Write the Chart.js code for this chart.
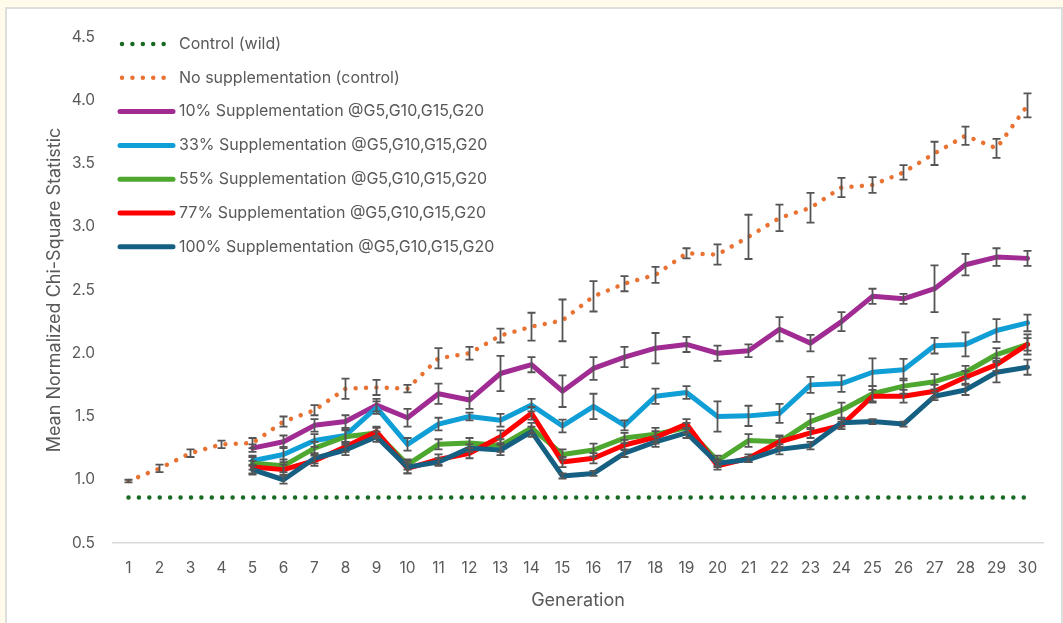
<!DOCTYPE html>
<html>
<head>
<meta charset="utf-8">
<script src="https://cdn.jsdelivr.net/npm/chart.js@4.4.1/dist/chart.umd.min.js"></script>
<style>
  html, body { margin: 0; padding: 0; background: #fffaea; }
  body { width: 1063px; height: 623px; position: relative; overflow: hidden; }
  #panel { position: absolute; left: 5px; top: 7px; width: 1054px; height: 620px;
           background: #ffffff; border: 2px solid #dedede; }
  #wrap { position: absolute; left: 0; top: 0; width: 1063px; height: 623px; }
</style>
</head>
<body>
<div id="panel"></div>
<div id="wrap"><canvas id="chart" width="1063" height="623"></canvas></div>
<script>
// Generations on the x axis
const generations = ['1','2','3','4','5','6','7','8','9','10','11','12','13','14','15',
  '16','17','18','19','20','21','22','23','24','25','26','27','28','29','30'];

// Wild-type reference level
const controlWild = [0.86,0.86,0.86,0.86,0.86,0.86,0.86,0.86,0.86,0.86,0.86,0.86,0.86,0.86,0.86,
  0.86,0.86,0.86,0.86,0.86,0.86,0.86,0.86,0.86,0.86,0.86,0.86,0.86,0.86,0.86];

// No supplementation (control) and its error
const noSupp = [0.99,1.09,1.21,1.28,1.29,1.46,1.55,1.72,1.73,1.72,1.96,2.00,2.14,2.21,2.26,
  2.45,2.55,2.62,2.79,2.78,2.92,3.07,3.15,3.31,3.33,3.43,3.58,3.72,3.62,3.96];
const noSuppErr = [0.01,0.03,0.03,0.03,0.04,0.04,0.04,0.08,0.06,0.03,0.08,0.05,0.055,0.11,0.165,
  0.12,0.06,0.063,0.04,0.08,0.175,0.105,0.117,0.076,0.063,0.057,0.092,0.072,0.075,0.095];

// 10% supplementation
const sup10 = [null,null,null,null,1.25,1.30,1.43,1.46,1.59,1.49,1.68,1.63,1.84,1.91,1.70,
  1.88,1.97,2.04,2.07,2.00,2.02,2.19,2.08,2.25,2.45,2.43,2.51,2.70,2.76,2.75];
const sup10Err = [null,null,null,null,0.03,0.05,0.05,0.05,0.05,0.07,0.08,0.07,0.14,0.06,0.125,
  0.09,0.08,0.12,0.06,0.06,0.05,0.095,0.065,0.075,0.06,0.04,0.185,0.085,0.07,0.06];

// 33% supplementation
const sup33 = [null,null,null,null,1.15,1.20,1.31,1.35,1.57,1.28,1.44,1.50,1.47,1.59,1.425,
  1.58,1.43,1.66,1.69,1.50,1.505,1.525,1.75,1.76,1.85,1.87,2.06,2.07,2.18,2.24];
const sup33Err = [null,null,null,null,0.04,0.06,0.05,0.05,0.05,0.05,0.05,0.03,0.05,0.05,0.05,
  0.10,0.04,0.06,0.05,0.12,0.08,0.075,0.063,0.065,0.11,0.085,0.062,0.095,0.09,0.066];

// 55% supplementation
const sup55 = [null,null,null,null,1.13,1.11,1.25,1.34,1.37,1.12,1.28,1.29,1.27,1.41,1.20,
  1.235,1.33,1.36,1.41,1.15,1.31,1.30,1.46,1.55,1.68,1.74,1.775,1.85,1.99,2.07];
const sup55Err = [null,null,null,null,0.05,0.05,0.05,0.05,0.04,0.04,0.04,0.04,0.05,0.04,0.04,
  0.05,0.04,0.05,0.04,0.04,0.05,0.04,0.06,0.06,0.06,0.06,0.06,0.05,0.05,0.05];

// 77% supplementation
const sup77 = [null,null,null,null,1.10,1.08,1.15,1.26,1.38,1.09,1.16,1.21,1.34,1.525,1.14,
  1.17,1.275,1.335,1.44,1.11,1.17,1.30,1.37,1.43,1.66,1.66,1.70,1.81,1.91,2.07];
const sup77Err = [null,null,null,null,0.05,0.04,0.04,0.04,0.04,0.04,0.04,0.04,0.05,0.05,0.04,
  0.04,0.04,0.05,0.04,0.03,0.03,0.05,0.04,0.03,0.05,0.05,0.05,0.05,0.05,0.08];

// 100% supplementation
const sup100 = [null,null,null,null,1.08,1.00,1.17,1.235,1.34,1.10,1.14,1.25,1.235,1.38,1.03,
  1.05,1.21,1.30,1.37,1.13,1.16,1.24,1.27,1.45,1.46,1.44,1.66,1.71,1.85,1.89];
const sup100Err = [null,null,null,null,0.04,0.03,0.04,0.04,0.04,0.05,0.03,0.03,0.04,0.04,0.02,
  0.02,0.03,0.04,0.04,0.03,0.02,0.04,0.03,0.03,0.02,0.02,0.03,0.04,0.08,0.06];

const TEXT = '#595959';
const FONT = 'Inter, "Open Sans", sans-serif';

function dotted(label, data, color, order) {
  return { label, data, borderColor: color, backgroundColor: color, borderWidth: 4.5,
    borderDash: [0.01, 10.4], borderCapStyle: 'round', pointRadius: 0, order, dotted: true };
}
function solid(label, data, err, color, order) {
  return { label, data, errors: err, borderColor: color, backgroundColor: color, borderWidth: 5,
    borderJoinStyle: 'round', borderCapStyle: 'round', pointRadius: 0, order };
}

const datasets = [
  dotted('Control (wild)', controlWild, '#196B24', 7),
  Object.assign(dotted('No supplementation (control)', noSupp, '#E97132', 6), { errors: noSuppErr }),
  solid('10% Supplementation @G5,G10,G15,G20', sup10, sup10Err, '#A02B93', 5),
  solid('33% Supplementation @G5,G10,G15,G20', sup33, sup33Err, '#0F9ED5', 4),
  solid('55% Supplementation @G5,G10,G15,G20', sup55, sup55Err, '#4EA72E', 3),
  solid('77% Supplementation @G5,G10,G15,G20', sup77, sup77Err, '#FF0000', 2),
  solid('100% Supplementation @G5,G10,G15,G20', sup100, sup100Err, '#156082', 1)
];

// Vertical error bars with caps, placed through the chart's own scales
const errorBars = {
  id: 'errorBars',
  afterDatasetsDraw(chart) {
    const { ctx, scales: { x, y } } = chart;
    ctx.save();
    ctx.strokeStyle = '#555555';
    ctx.lineWidth = 1.8;
    ctx.lineCap = 'butt';
    chart.data.datasets.forEach(ds => {
      if (!ds.errors) return;
      ds.data.forEach((v, i) => {
        const e = ds.errors[i];
        if (v == null || e == null) return;
        const px = x.getPixelForValue(i);
        const top = y.getPixelForValue(v + e);
        const bot = y.getPixelForValue(v - e);
        ctx.beginPath();
        ctx.moveTo(px, top); ctx.lineTo(px, bot);
        ctx.moveTo(px - 4, top); ctx.lineTo(px + 4, top);
        ctx.moveTo(px - 4, bot); ctx.lineTo(px + 4, bot);
        ctx.stroke();
      });
    });
    ctx.restore();
  }
};

// Legend stacked in the upper-left corner of the plot
const innerLegend = {
  id: 'innerLegend',
  afterDraw(chart) {
    const { ctx, chartArea } = chart;
    const x0 = chartArea.left + 7, x1 = x0 + 53, tx = x1 + 6;
    const y0 = chartArea.top + 7, step = 33.8;
    ctx.save();
    ctx.font = '16px ' + FONT;
    ctx.textBaseline = 'middle';
    ctx.textAlign = 'left';
    chart.data.datasets.forEach((ds, k) => {
      const yy = y0 + k * step;
      ctx.strokeStyle = ds.borderColor;
      ctx.lineWidth = ds.borderWidth;
      ctx.lineCap = 'round';
      ctx.setLineDash(ds.dotted ? [0.01, 10.4] : []);
      ctx.beginPath();
      ctx.moveTo(x0 + (ds.dotted ? 2 : 0), yy);
      ctx.lineTo(x1, yy);
      ctx.stroke();
      ctx.setLineDash([]);
      ctx.fillStyle = TEXT;
      ctx.fillText(ds.label, tx, yy);
    });
    ctx.restore();
  }
};

new Chart(document.getElementById('chart'), {
  type: 'line',
  data: { labels: generations, datasets },
  plugins: [errorBars, innerLegend],
  options: {
    responsive: false,
    animation: false,
    layout: { padding: { left: 40, right: 20, top: 37, bottom: 0 } },
    plugins: { legend: { display: false }, tooltip: { enabled: false } },
    scales: {
      x: {
        offset: true,
        grid: { display: false, drawTicks: false },
        border: { display: true, color: '#d9d9d9', width: 1.5 },
        ticks: { color: TEXT, font: { family: FONT, size: 15.5 }, padding: 16, maxRotation: 0, autoSkip: false },
        title: { display: true, text: 'Generation', color: TEXT,
                 font: { family: FONT, size: 18 }, padding: { top: 0, bottom: 12 } },
        afterFit(scale) { scale.height = 80; }
      },
      y: {
        min: 0.5, max: 4.5,
        grid: { display: false, drawTicks: false },
        border: { display: false },
        ticks: { stepSize: 0.5, color: TEXT, font: { family: FONT, size: 15.5 }, padding: 18,
                 callback: v => Number(v).toFixed(1) },
        title: { display: true, text: 'Mean Normalized Chi-Square Statistic', color: TEXT,
                 font: { family: FONT, size: 18 }, padding: { top: 4, bottom: 0 } },
        afterFit(scale) { scale.width = 73; }
      }
    }
  }
});
</script>
</body>
</html>
